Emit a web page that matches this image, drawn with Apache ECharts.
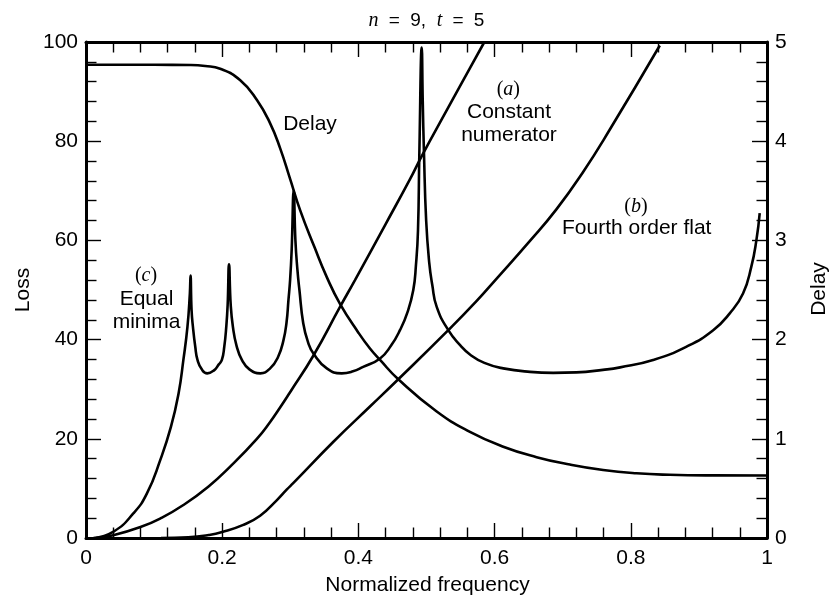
<!DOCTYPE html>
<html>
<head>
<meta charset="utf-8">
<script src="https://cdn.jsdelivr.net/npm/echarts@6/dist/echarts.min.js"></script>
<style>
  html, body { margin: 0; padding: 0; background: #fff; }
  #chart { width: 831px; height: 595px; }
</style>
</head>
<body>
<div id="chart"></div>
<script>
// Loss (dB) and group delay against normalized frequency, n = 9, t = 5.

// Group delay of the filter, in delay units (right axis).
const delay = [
  [0, 4.77], [0.05, 4.77], [0.10, 4.77], [0.153, 4.768], [0.175, 4.758],
  [0.197, 4.73], [0.2265, 4.615], [0.251, 4.415], [0.2704, 4.18],
  [0.285, 3.93], [0.2997, 3.62], [0.3144, 3.305], [0.3356, 2.93],
  [0.3536, 2.63], [0.373, 2.36], [0.4, 2.07], [0.417, 1.91],
  [0.4318, 1.795], [0.4586, 1.6], [0.515, 1.275], [0.5638, 1.07],
  [0.6127, 0.92], [0.6617, 0.815], [0.7105, 0.74], [0.7594, 0.685],
  [0.8083, 0.652], [0.857, 0.637], [0.92, 0.631], [1.0, 0.63]
];

// (a) Constant numerator: loss (left axis).
const constantNumerator = [
  [0.015, 0], [0.04, 0.55], [0.08, 2.2], [0.11, 4.0], [0.143, 6.65],
  [0.18, 10.4], [0.2117, 14.4], [0.2509, 20.0], [0.2704, 23.4],
  [0.285, 26.3], [0.2997, 29.4], [0.334, 36.8], [0.373, 46.6],
  [0.395, 52], [0.44, 63.3], [0.476, 72.4], [0.493, 77], [0.53, 86.3],
  [0.564, 94.8], [0.585, 100]
];

// (b) Fourth order flat: loss (left axis).
const fourthOrderFlat = [
  [0.11, 0], [0.15, 0.15], [0.18, 0.6], [0.2, 1.2], [0.23, 2.6],
  [0.2557, 4.5], [0.28, 7.6], [0.295, 9.8], [0.3046, 11.1],
  [0.3633, 19.4], [0.417, 26.5], [0.4586, 32], [0.532, 41.9],
  [0.5737, 47.8], [0.603, 52.3], [0.65, 59.6], [0.691, 66.3],
  [0.73, 73.8], [0.769, 82.3], [0.8426, 99.3]
];

// (c) Equal minima: loss (left axis), with its four loss poles.
const equalMinima = [
  [0.011, 0], [0.0405, 1.3], [0.0698, 5.0], [0.0895, 9], [0.109, 15.7],
  [0.1247, 22.4], [0.136, 29.2], [0.143, 35.9], [0.149, 42.6],
  [0.1525, 49.3], [0.1535, 52.9],
  [0.155, 46], [0.157, 42.6], [0.1605, 38.5], [0.1637, 35.9], [0.170, 34],
  [0.178, 33.2], [0.188, 33.8], [0.195, 35], [0.1995, 35.9], [0.203, 38.5],
  [0.206, 42.6], [0.208, 47], [0.210, 55.2],
  [0.2125, 47], [0.2157, 42.6], [0.221, 38.8], [0.2289, 35.9], [0.24, 34],
  [0.256, 33.2], [0.2704, 34.2], [0.282, 36.5], [0.29, 39.9],
  [0.2945, 43.5], [0.2973, 48], [0.2997, 52], [0.302, 58], [0.305, 70],
  [0.3075, 60], [0.3105, 54], [0.3134, 50], [0.319, 43.3], [0.326, 39.5],
  [0.334, 37.2], [0.3536, 34.2], [0.3756, 33.2], [0.392, 33.6],
  [0.407, 34.5], [0.4318, 36.2], [0.448, 38.8], [0.461, 41.9],
  [0.472, 45.5], [0.4806, 50], [0.4845, 55], [0.4875, 62],
  [0.4895, 77.6], [0.493, 98.9],
  [0.4945, 88], [0.4963, 77.6], [0.4995, 64], [0.504, 55.5], [0.5085, 51],
  [0.515, 46.6], [0.532, 41.9], [0.55, 38.8], [0.5638, 37], [0.585, 35.3],
  [0.6127, 34.2], [0.652, 33.5], [0.686, 33.3], [0.72, 33.4],
  [0.759, 33.9], [0.7843, 34.4], [0.8327, 35.9], [0.882, 38.6],
  [0.921, 41.9], [0.9453, 45.3], [0.9648, 49.3], [0.977, 54.7],
  [0.9845, 60.1], [0.9893, 65.5]
];

// Axis ranges and tick steps.
const freqRange = [0, 1, 0.2];
const lossRange = [0, 100, 20];
const delayRange = [0, 5, 1];

const SANS = "'Liberation Sans', Arial, Helvetica, sans-serif";
const SERIF = "'Liberation Serif', 'DejaVu Serif', 'Times New Roman', serif";
const INK = '#000';

function frameAxis(range, position, showLabels, labelMargin) {
  return {
    type: 'value',
    position: position,
    min: range[0],
    max: range[1],
    interval: range[2],
    axisLine: { show: true, onZero: false, lineStyle: { color: INK, width: 3 } },
    axisTick: { show: true, inside: true, length: 15, lineStyle: { color: INK, width: 1.4 } },
    minorTick: { show: true, splitNumber: 5, length: 10.5, lineStyle: { color: INK, width: 1.4 } },
    splitLine: { show: false },
    minorSplitLine: { show: false },
    axisLabel: {
      show: showLabels,
      margin: labelMargin,
      color: INK,
      fontFamily: SANS,
      fontSize: 21
    }
  };
}

function curve(data, yAxisIndex) {
  return {
    type: 'line',
    data: data,
    yAxisIndex: yAxisIndex,
    xAxisIndex: 0,
    showSymbol: false,
    symbol: 'none',
    smooth: 0.5,
    clip: true,
    lineStyle: { color: INK, width: 2.6 },
    emphasis: { disabled: true },
    silent: true
  };
}

function label(text, x, y, extra) {
  return Object.assign({
    type: 'text',
    x: x,
    y: y,
    silent: true,
    style: {
      text: text,
      fill: INK,
      fontFamily: SANS,
      fontSize: 21,
      align: 'center',
      verticalAlign: 'middle',
      textAlign: 'center',
      textVerticalAlign: 'middle'
    }
  }, extra || {});
}

function richLabel(text, x, y, size, rich) {
  const el = label(text, x, y);
  el.style.fontSize = size;
  el.style.rich = rich;
  return el;
}

const mathItalic = { fontFamily: SERIF, fontStyle: 'italic', fontSize: 20, fill: INK };
const mathUpright = { fontFamily: SERIF, fontSize: 20, fill: INK };

const chart = echarts.init(document.getElementById('chart'), null, { renderer: 'canvas' });

chart.setOption({
  animation: false,
  backgroundColor: '#fff',
  grid: {
    left: 86,
    right: 64,
    top: 42,
    bottom: 57,
    containLabel: false,
    outerBoundsMode: 'none'
  },
  xAxis: [
    frameAxis(freqRange, 'bottom', true, 10),
    frameAxis(freqRange, 'top', false, 8)
  ],
  yAxis: [
    frameAxis(lossRange, 'left', true, 8),
    frameAxis(delayRange, 'right', true, 8)
  ],
  series: [
    curve(delay, 1),
    curve(constantNumerator, 0),
    curve(fourthOrderFlat, 0),
    curve(equalMinima, 0)
  ],
  graphic: [
    richLabel('{i|n}{o| = }9,  {i|t}{o| = }5', 426.5, 21, 19, {
      i: mathItalic,
      o: { fontFamily: SANS, fontSize: 19, fill: INK, padding: [0, 5] }
    }),
    label('Loss', 23, 290, { rotation: Math.PI / 2 }),
    label('Delay', 819, 289, { rotation: Math.PI / 2 }),
    label('Normalized frequency', 427.5, 585),
    label('Delay', 310, 124),
    richLabel('{p|(}{i|a}{p|)}', 508.3, 90, 20, { p: mathUpright, i: mathItalic }),
    label('Constant', 509, 112.5),
    label('numerator', 509, 135.5),
    richLabel('{p|(}{i|b}{p|)}', 636, 207, 20, { p: mathUpright, i: mathItalic }),
    label('Fourth order flat', 636.7, 228.5),
    richLabel('{p|(}{i|c}{p|)}', 146, 276, 20, { p: mathUpright, i: mathItalic }),
    label('Equal', 146.5, 299),
    label('minima', 146.5, 322)
  ]
});
</script>
</body>
</html>
